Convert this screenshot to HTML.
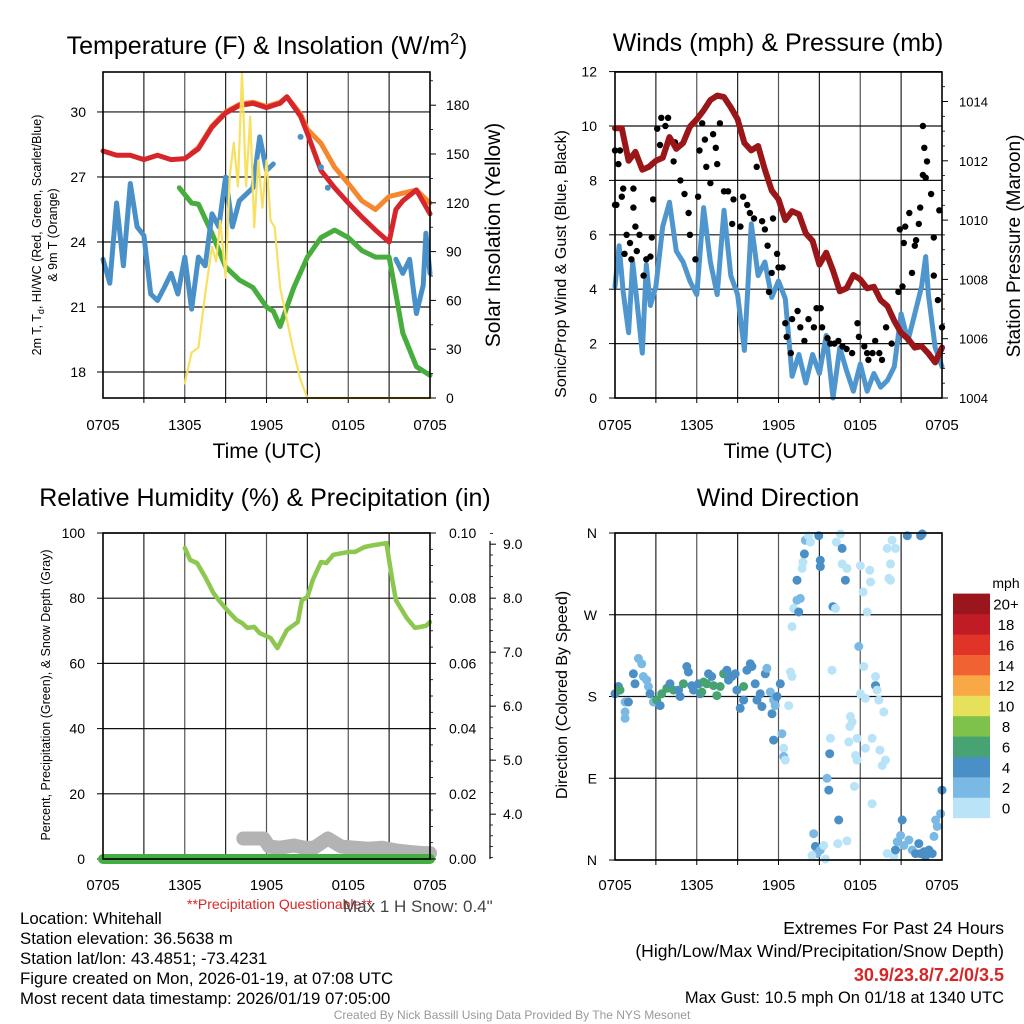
<!DOCTYPE html>
<html><head><meta charset="utf-8"><style>
html,body{margin:0;padding:0;background:#fff;}
svg{display:block;font-family:"Liberation Sans",sans-serif;}
</style></head><body>
<svg id="chart" width="1024" height="1024" viewBox="0 0 1024 1024" xmlns="http://www.w3.org/2000/svg">
<rect x="0" y="0" width="1024" height="1024" fill="#fff"/>
</svg>
<script>
// ---------- Panel 1: temperature & insolation ----------
const redHours = [0,1,2,3,4,5,6,7,8,9,10,11,12,13,13.5,14,14.5,15,16,17,18,19,20,21,21.5,22,23,24];
const redTemp = [28.2,28.0,28.0,27.8,28.0,27.8,27.85,28.3,29.3,29.95,30.3,30.4,30.2,30.4,30.7,30.25,29.8,29.0,27.3,26.5,25.8,25.15,24.55,24.0,25.5,25.9,26.4,25.3];
const orangeHours = [6.5,7,8,9,10,11,12,13,13.5,14,14.5,15,16,17,18,19,20,21,22,23,24];
const orangeTemp = [28.1,28.35,29.35,30.0,30.35,30.45,30.25,30.45,30.7,30.3,29.9,29.2,28.55,27.45,26.7,25.9,25.5,26.1,26.25,26.4,25.8];
const greenHours = [5.6,6.5,7,8,9,10,11,12,12.5,13,14,15,16,17,18,19,20,21,21.5,22,23,24];
const greenTemp = [26.5,25.8,25.75,24.4,22.85,22.25,21.9,21.0,20.8,20.1,21.9,23.3,24.2,24.55,24.2,23.6,23.3,23.3,21.6,19.8,18.25,17.85];
const blueHours1 = [0,0.5,1,1.5,2,2.5,3,3.5,4,4.5,5,5.5,6,6.5,7,7.5,8,8.5,9,9.5,10,10.5,11,11.5,12,12.5];
const blueTemp1 = [23.2,22.1,25.8,22.9,26.7,24.7,24.3,21.6,21.3,21.9,22.55,21.6,23.3,20.9,23.3,22.9,25.3,24.7,27.0,24.7,25.9,26.2,26.5,28.85,27.3,27.6];
const blueDotHours = [14.5,16,16.5];
const blueDotTemp = [28.85,27.45,26.5];
const blueHours2 = [21.5,22,22.5,23,23.5,23.7,24];
const blueTemp2 = [23.2,22.55,23.2,20.7,22.0,24.4,22.55];
const solarHours = [6,6.5,7,7.5,8,8.3,8.6,9,9.3,9.6,9.9,10.2,10.5,10.8,11.1,11.4,11.7,12,12.3,12.6,13,14,14.5,15,24];
const solarVals = [9,28,31,64,93,84,109,74,136,157,130,200,130,173,105,146,117,146,109,105,68,28,11,0,0];
const tempTicks = [18,21,24,27,30];
const solarTicks = [0,30,60,90,120,150,180];
const timeLabels = ["0705","1305","1905","0105","0705"];

// ---------- Panel 2: winds & pressure ----------
const presHours = [0,0.5,1,1.5,2,2.5,3,3.5,4,4.5,5,5.5,6,6.5,7,7.5,8,8.5,9,9.5,10,10.5,11,11.5,12,12.5,13,13.5,14,14.5,15,15.5,16,16.5,17,17.5,18,18.5,19,19.5,20,20.5,21,21.5,22,22.5,23,23.5,24];
const presVals = [1013.1,1013.1,1012.0,1012.3,1011.7,1011.8,1012.0,1012.1,1012.8,1012.4,1012.6,1013.15,1013.4,1013.7,1014.05,1014.2,1014.15,1013.8,1013.4,1012.6,1012.35,1012.5,1011.7,1011.0,1010.7,1010.0,1010.3,1010.2,1009.55,1009.3,1008.5,1008.9,1008.3,1007.6,1007.7,1008.15,1008.0,1007.7,1007.75,1007.3,1007.1,1006.6,1006.2,1006.0,1005.7,1005.75,1005.5,1005.2,1005.7];
const windHours = [0,0.3,0.6,1,1.3,1.6,2,2.3,2.6,3,3.5,4,4.5,5,5.5,6,6.5,7,7.5,8,8.5,9,9.5,10,10.5,11,11.5,12,12.5,13,13.5,14,14.5,15,15.5,16,16.5,17,17.5,18,18.5,19,19.5,20,20.5,21,21.5,22,22.5,22.8,23,23.5,24];
const windVals = [4.1,5.6,3.9,2.4,5.0,3.6,1.65,4.9,3.4,4.1,6.3,7.2,5.4,5.0,4.3,3.8,7.0,5.0,3.8,6.9,4.5,3.8,1.75,6.4,4.5,5.0,3.7,4.3,3.65,0.8,1.6,0.55,1.6,0.9,2.3,0,1.85,1.0,0.25,1.25,0.25,0.9,0.4,0.65,1.15,3.1,2.1,3.1,4.1,5.2,3.8,1.85,1.15];
const gustHours = [0,0.37,0.25,0,0.1,0.5,0.6,0.7,0.85,1.1,1.2,1.35,1.35,1.5,1.6,1.8,2.1,2.3,2.6,2.7,2.8,3.1,3.3,3.4,3.7,3.9,4.0,4.3,4.4,4.8,5.1,5.4,5.5,5.9,6.1,6.2,6.4,6.6,6.7,7.0,7.2,7.4,7.5,7.7,8.0,8.3,8.6,8.7,9.2,9.4,9.7,9.9,10.2,10.4,10.8,11.0,11.2,11.3,11.5,11.6,11.9,12.0,12.3,12.5,12.6,12.9,13.0,13.4,13.6,13.9,14.2,14.6,14.8,15.1,15.2,15.6,15.8,16.1,16.4,16.7,17.0,17.4,17.8,17.9,18.3,18.5,18.6,18.9,19.1,19.4,19.6,19.9,20.3,20.8,20.9,21.1,21.2,21.3,21.6,21.8,22.0,22.1,22.3,22.4,22.6,22.6,22.7,22.8,22.9,23.2,23.4,23.4,23.7,23.8,24.0];
const gustVals = [9.1,9.1,8.6,7.1,7.1,7.4,7.7,5.3,6.0,5.7,5.1,7.7,7.0,6.3,5.4,6.0,4.5,5.1,5.2,5.9,7.3,9.9,9.3,10.3,10.0,10.3,9.5,8.7,9.4,8.0,7.5,6.8,6.0,5.1,7.4,9.1,10.1,9.5,8.5,7.9,9.7,9.2,8.6,10.1,7.6,7.6,6.4,7.3,6.3,7.4,7.1,6.8,6.6,8.5,6.5,6.2,5.6,3.9,4.6,6.6,5.3,4.8,4.8,2.75,2.25,1.65,2.9,3.2,2.6,2.1,2.9,2.6,3.3,3.3,2.6,2.2,2.0,2.0,2.1,1.9,1.8,1.65,2.75,2.25,1.9,1.65,1.4,1.65,2.1,1.65,1.4,2.6,2.0,3.9,6.2,4.1,5.7,6.3,6.8,4.6,5.6,5.8,6.4,7.0,8.2,10.0,9.2,8.1,8.7,7.5,5.9,4.5,3.6,6.9,2.6];
const windTicks = [0,2,4,6,8,10,12];
const presTicks = [1004,1006,1008,1010,1012,1014];

// ---------- Panel 3: RH, precip & snow ----------
const rhHours = [6.0,6.4,6.9,7.5,8.1,8.5,9.1,9.8,10.2,10.6,11.1,11.5,12.3,12.8,13.5,14.3,14.6,15.0,15.4,16.0,16.4,16.9,18.0,18.5,19.2,19.9,20.8,21.2,21.5,22.3,22.9,23.7,24.0];
const rhVals = [95.4,91.7,90.8,86.5,81.6,79.4,76.4,73.3,72.4,70.9,71.2,69.3,67.8,64.7,70.2,72.7,79.4,80.4,85.6,91.1,90.8,93.3,94.2,94.2,95.7,96.3,96.9,86.5,79.4,73.9,70.9,71.5,72.7];
const precipHours = [0,24];
const precipVals = [0,0];
const snowHours = [10.3,11,11.8,12.2,13,14,14.8,15.5,16.5,17.5,18.5,19.5,20.5,21.5,22.5,23.5,24];
const snowVals = [3.55,3.55,3.55,3.4,3.38,3.42,3.38,3.38,3.55,3.4,3.38,3.36,3.38,3.33,3.3,3.28,3.28];
const rhTicks = [0,20,40,60,80,100];
const precipTicks = ["0.00","0.02","0.04","0.06","0.08","0.10"];
const snowTicks = [4,5,6,7,8,9];

// ---------- Panel 4: wind direction ----------
const dirHours = [0,0.25,0.37,0.74,0.98,0.74,0.74,1.35,1.72,1.96,1.47,2.08,2.33,2.45,2.57,2.82,3.06,3.31,3.43,3.8,4.04,4.29,4.66,4.78,5.02,5.27,5.39,5.64,5.76,6.13,6.25,6.37,6.5,6.74,6.86,7.1,7.23,7.48,7.72,7.97,8.21,8.33,8.58,8.82,8.95,9.19,9.44,9.44,9.68,9.93,10.05,10.29,10.42,10.66,10.78,11.03,11.15,11.4,11.52,11.64,11.76,11.89,12.13,12.25,11.64,12.38,12.38,12.5,12.75,12.87,12.99,12.99,13.11,13.36,13.48,13.6,13.36,13.73,13.8,13.9,13.97,14.2,14.34,14.95,15.07,15.07,15.81,15.76,15.56,15.69,15.93,16.0,16.18,16.25,16.54,16.67,16.67,17.03,16.91,18.01,18.21,18.5,17.89,18.26,18.7,18.75,18.01,18.38,19.12,19.12,19.24,19.36,19.73,17.28,17.4,17.23,17.16,17.77,17.65,17.77,18.38,18.87,19.44,19.61,19.85,17.57,18.87,14.58,14.71,15.07,14.83,14.46,15.44,15.32,16.35,17.03,16.42,21.08,19.98,20.47,20.59,20.71,20.96,21.2,21.57,21.81,22.06,22.3,22.43,22.67,22.79,23.04,23.28,23.41,23.53,23.65,23.9,24.0,21.45,22.43,22.55,19.98,20.34,20.59,20.22,20.1,20.22];
const dirDeg = [183,191,187,174,174,163,156,205,222,216,194,202,198,191,183,174,176,170,183,189,194,187,187,180,194,213,207,192,187,194,183,185,196,194,205,202,192,181,191,205,209,198,202,205,187,167,176,191,209,216,213,194,176,183,169,205,211,185,161,176,170,180,194,139,132,123,114,110,170,207,202,257,277,286,273,288,308,321,328,337,352,357,350,357,330,323,134,117,90,77,209,279,277,350,359,343,326,321,308,324,295,273,235,213,319,306,183,178,202,192,187,176,163,158,152,147,130,134,115,110,123,134,121,104,110,81,62,29,15,11,7,5,1,16,18,21,44,44,7,4,11,20,27,16,22,11,7,18,7,9,4,11,7,26,44,37,51,77,357,357,359,343,352,343,326,310,308];
const dirSpeed = [5,5,7,3,5,3,3,5,3,3,5,3,3,3,5,3,7,5,7,7,5,7,5,5,7,5,5,5,5,5,5,7,7,7,5,5,7,7,7,7,5,5,5,5,5,5,5,7,5,5,5,5,5,5,5,5,3,3,5,3,3,5,5,3,5,1,3,1,1,1,1,1,1,3,5,3,5,1,1,5,3,1,1,5,5,5,1,5,3,5,1,5,1,1,1,5,1,1,5,1,1,1,3,1,1,1,1,1,1,5,1,1,1,1,1,1,1,1,1,1,1,1,1,1,1,1,1,3,5,3,3,1,1,1,1,1,5,5,1,1,5,3,3,3,3,3,5,5,5,5,5,5,5,3,3,3,3,5,5,5,5,1,1,1,1,1,1];
const dirLabels = ["N","E","S","W","N"];
const speedColors = ["#b9e3f7","#7ab9e3","#4a8fc6","#47a472","#7ec24b","#e7e05b","#f8a845","#f06231","#e03429","#c11c25","#9b161c"];
const speedLabels = ["0","2","4","6","8","10","12","14","16","18","20+"];

const svg = document.getElementById('chart');
const NS = 'http://www.w3.org/2000/svg';
function mk(tag, attrs, parent){const e=document.createElementNS(NS,tag);for(const k in attrs)e.setAttribute(k,attrs[k]);(parent||svg).appendChild(e);return e;}
function txt(x,y,s,size,anchor,fill,extra){const t=mk('text',Object.assign({x:x,y:y,'font-size':size,'text-anchor':anchor||'middle',fill:fill||'#000'},extra||{}));t.textContent=s;return t;}
function pathFrom(xs,ys,fx,fy){let d='';for(let i=0;i<xs.length;i++){d+=(i?'L':'M')+fx(xs[i]).toFixed(1)+','+fy(ys[i]).toFixed(1);}return d;}

function panelFrame(name,x0,x1,y0,y1,hTicksY){
  const g=mk('g',{});
  
  
  for(let i=1;i<8;i++){const x=x0+(x1-x0)*i/8;
    const l=mk('line',{x1:x,x2:x,y1:y0,y2:y1,stroke:(i%2?'#222':'#555'),'stroke-width':1.2},g);
    
    
    const tk=mk('line',{x1:x,x2:x,y1:y1,y2:y1+5,stroke:'#000','stroke-width':1},g);
    
    }
  hTicksY.forEach(y=>{const l=mk('line',{x1:x0,x2:x1,y1:y,y2:y,stroke:'#111','stroke-width':1.2},g);
    
    
    const tk=mk('line',{x1:x0-6,x2:x0,y1:y,y2:y,stroke:'#000','stroke-width':1},g);
    
    });
  return g;
}
function border(name,x0,x1,y0,y1){const r=mk('rect',{x:x0,y:y0,width:x1-x0,height:y1-y0,fill:'none',stroke:'#000','stroke-width':1.6});
  
  }
function xLabels(x0,x1,y){timeLabels.forEach((s,i)=>{const t=txt(x0+(x1-x0)*i/4,y,s,15);
  
  });}
function rightTicks(x,ys,minorYs){ys.forEach(y=>{const l=mk('line',{x1:x,x2:x+6,y1:y,y2:y,stroke:'#000','stroke-width':1});
  
  });
  minorYs.forEach(y=>{const l=mk('line',{x1:x,x2:x+3,y1:y,y2:y,stroke:'#000','stroke-width':0.8});
  
  });}
function series(name,xs,ys,fx,fy,color,w){const p=mk('path',{d:pathFrom(xs,ys,fx,fy),fill:'none',stroke:color,'stroke-width':w,'stroke-linejoin':'round','stroke-linecap':'round'});
  
  return p;}
function rotText(cx,cy,s,size,name){const t=mk('text',{x:0,y:0,'font-size':size,'text-anchor':'middle',transform:'translate('+cx+','+cy+') rotate(-90)'});t.textContent=s;
  
  return t;}

// ===== Panel 1 =====
const A={x0:103,x1:430,y0:72,y1:398};
const x1f=h=>A.x0+h*(A.x1-A.x0)/24;
const yT=t=>372-(t-18)*21.67;
const yS=s=>398-s*48.8/30;
panelFrame('temperature-panel',A.x0,A.x1,A.y0,A.y1,tempTicks.map(yT));
series('orange-9m-temp-line',orangeHours,orangeTemp,x1f,yT,'#f5872f',5);
series('red-2m-temp-line',redHours,redTemp,x1f,yT,'#d7262b',5);
series('green-dewpoint-line',greenHours,greenTemp,x1f,yT,'#47ad3d',5);
series('blue-windchill-line-1',blueHours1,blueTemp1,x1f,yT,'#4a90c8',5);
series('blue-windchill-line-2',blueHours2,blueTemp2,x1f,yT,'#4a90c8',5);
blueDotHours.forEach((h,i)=>{const c=mk('circle',{cx:x1f(h),cy:yT(blueDotTemp[i]),r:3,fill:'#4a90c8'});
  
  });
series('yellow-insolation-line',solarHours,solarVals,x1f,yS,'#f8e060',2.2);
border('temperature',A.x0,A.x1,A.y0,A.y1);
tempTicks.forEach(t=>{const e=txt(86,yT(t)+5,String(t),14,'end');
  
  });
rightTicks(A.x1,solarTicks.map(yS),[15,45,75,105,135,165,195].map(yS));
solarTicks.forEach(s=>{const e=txt(446,yS(s)+5,String(s),14,'start');
  
  });
xLabels(A.x0,A.x1,430);
{const t=txt(267,458,'Time (UTC)',21);}
{const t=mk('text',{x:267,y:54,'font-size':25,'text-anchor':'middle'});t.innerHTML='Temperature (F) &amp; Insolation (W/m<tspan dy="-10" font-size="16">2</tspan><tspan dy="10">)</tspan>';
 
 }
{const t=mk('text',{x:0,y:0,'font-size':12.5,'text-anchor':'middle',transform:'translate(41,235) rotate(-90)'});t.innerHTML='2m T, T<tspan dy="3" font-size="9">d</tspan><tspan dy="-3">, HI/WC (Red, Green, Scarlet/Blue)</tspan>';
 
 }
rotText(57,235,'& 9m T (Orange)',12.5,'temperature-y-axis-title-line2');
rotText(500,235,'Solar Insolation (Yellow)',21,'solar-y-axis-title');

// ===== Panel 2 =====
const B={x0:615,x1:942,y0:72,y1:398};
const x2f=h=>B.x0+h*(B.x1-B.x0)/24;
const yW=w=>398-w*27.2;
const yP=p=>398-(p-1004)*29.65;
panelFrame('winds-panel',B.x0,B.x1,B.y0,B.y1,windTicks.map(yW));
series('sonic-wind-line',windHours,windVals,x2f,yW,'#4f96cf',5);
gustHours.forEach((h,i)=>{const c=mk('circle',{cx:x2f(h).toFixed(1),cy:yW(gustVals[i]).toFixed(1),r:3.2,fill:'#000'});
  
  });
series('pressure-line',presHours,presVals,x2f,yP,'#9a1619',6);
border('winds',B.x0,B.x1,B.y0,B.y1);
windTicks.forEach(w=>{const e=txt(597,yW(w)+5,String(w),14,'end');
  
  });
rightTicks(B.x1,presTicks.map(yP),[1004.5,1005,1005.5,1006.5,1007,1007.5,1008.5,1009,1009.5,1010.5,1011,1011.5,1012.5,1013,1013.5,1014.5].map(yP));
presTicks.forEach(p=>{const e=txt(959,yP(p)+5,String(p),13,'start');
  
  });
xLabels(B.x0,B.x1,430);
{const t=txt(778,458,'Time (UTC)',21);}
{const t=txt(778,51,'Winds (mph) & Pressure (mb)',25);}
rotText(566,264,'Sonic/Prop Wind & Gust (Blue, Black)',16,'wind-y-axis-title');
rotText(1020,246,'Station Pressure (Maroon)',19,'pressure-y-axis-title');

// ===== Panel 3 =====
const C={x0:103,x1:430,y0:533,y1:859};
const x3f=h=>C.x0+h*(C.x1-C.x0)/24;
const yRH=r=>859-r*3.26;
const yPr=v=>859-v*3260;
const ySn=s=>859-(s-3.17)*54;
panelFrame('humidity-panel',C.x0,C.x1,C.y0,C.y1,rhTicks.map(yRH));
series('snow-depth-line',snowHours,snowVals,x3f,ySn,'#b3b3b3',14);
series('precipitation-line',precipHours,precipVals,x3f,yPr,'#44ae44',10);
series('relative-humidity-line',rhHours,rhVals,x3f,yRH,'#8cc84f',4.5);
border('humidity',C.x0,C.x1,C.y0,C.y1);
rhTicks.forEach(r=>{const e=txt(85,yRH(r)+5,String(r),14,'end');
  
  });
rightTicks(C.x1,precipTicks.map(s=>yPr(+s)),[0.005,0.01,0.015,0.025,0.03,0.035,0.045,0.05,0.055,0.065,0.07,0.075,0.085,0.09,0.095].map(yPr));
precipTicks.forEach(s=>{const e=txt(449,yPr(+s)+5,s,14,'start');
  
  });
{const l=mk('line',{x1:490,x2:490,y1:541,y2:859,stroke:'#000','stroke-width':1.2});}
rightTicks(490,snowTicks.map(ySn),[3.2,3.4,3.6,3.8,4.2,4.4,4.6,4.8,5.2,5.4,5.6,5.8,6.2,6.4,6.6,6.8,7.2,7.4,7.6,7.8,8.2,8.4,8.6,8.8,9.2].map(ySn));
snowTicks.forEach(s=>{const e=txt(503,ySn(s)+5,s.toFixed(1),14,'start');
  
  });
xLabels(C.x0,C.x1,890);
{const t=txt(265,506,'Relative Humidity (%) & Precipitation (in)',25);}
rotText(50,695,'Percent, Precipitation (Green), & Snow Depth (Gray)',12.5,'humidity-y-axis-title');
{const t=txt(187,909,'**Precipitation Questionable**',14,'start','#d62728');}
{const t=txt(343,912,'Max 1 H Snow: 0.4"',17,'start','#444');}

// ===== Panel 4 =====
const D={x0:615,x1:942,y0:533,y1:860};
const x4f=h=>D.x0+h*(D.x1-D.x0)/24;
const yD=d=>860-d*(D.y1-D.y0)/360;
panelFrame('direction-panel',D.x0,D.x1,D.y0,D.y1,[0,90,180,270,360].map(yD));
dirHours.forEach((h,i)=>{const ci=Math.min(10,Math.floor(dirSpeed[i]/2));
  const c=mk('circle',{cx:x4f(h).toFixed(1),cy:yD(dirDeg[i]).toFixed(1),r:4.5,fill:speedColors[ci]});
  
  });
border('direction',D.x0,D.x1,D.y0,D.y1);
dirLabels.forEach((s,i)=>{const e=txt(597,yD(i*90)+5,s,14,'end');
  
  });
xLabels(D.x0,D.x1,890);
{const t=txt(778,506,'Wind Direction',25);}
rotText(567,695,'Direction (Colored By Speed)',16,'direction-y-axis-title');
speedColors.forEach((c,i)=>{const y=818-(i+1)*20.4;
  const r=mk('rect',{x:953,y:y.toFixed(1),width:37,height:20.6,fill:c});
  
  
  const t=txt(1006,y+16,speedLabels[i],15);
  
  });
{const t=txt(1006,588,'mph',14);}

// ===== Footer text =====
const infoLines=['Location: Whitehall','Station elevation: 36.5638 m','Station lat/lon: 43.4851; -73.4231','Figure created on Mon, 2026-01-19, at 07:08 UTC','Most recent data timestamp: 2026/01/19 07:05:00'];
infoLines.forEach((s,i)=>{const t=txt(20,924+i*20,s,16.8,'start');
  
  });
{const t=txt(1004,934,'Extremes For Past 24 Hours',17.5,'end');}
{const t=txt(1004,957,'(High/Low/Max Wind/Precipitation/Snow Depth)',17.5,'end');}
{const t=txt(1004,981,'30.9/23.8/7.2/0/3.5',18,'end','#d62728',{'font-weight':'bold'});}
{const t=txt(1004,1003,'Max Gust: 10.5 mph On 01/18 at 1340 UTC',16.5,'end');}
{const t=txt(512,1019,'Created By Nick Bassill Using Data Provided By The NYS Mesonet',12,'middle','#999');}
</script>
</body></html>
